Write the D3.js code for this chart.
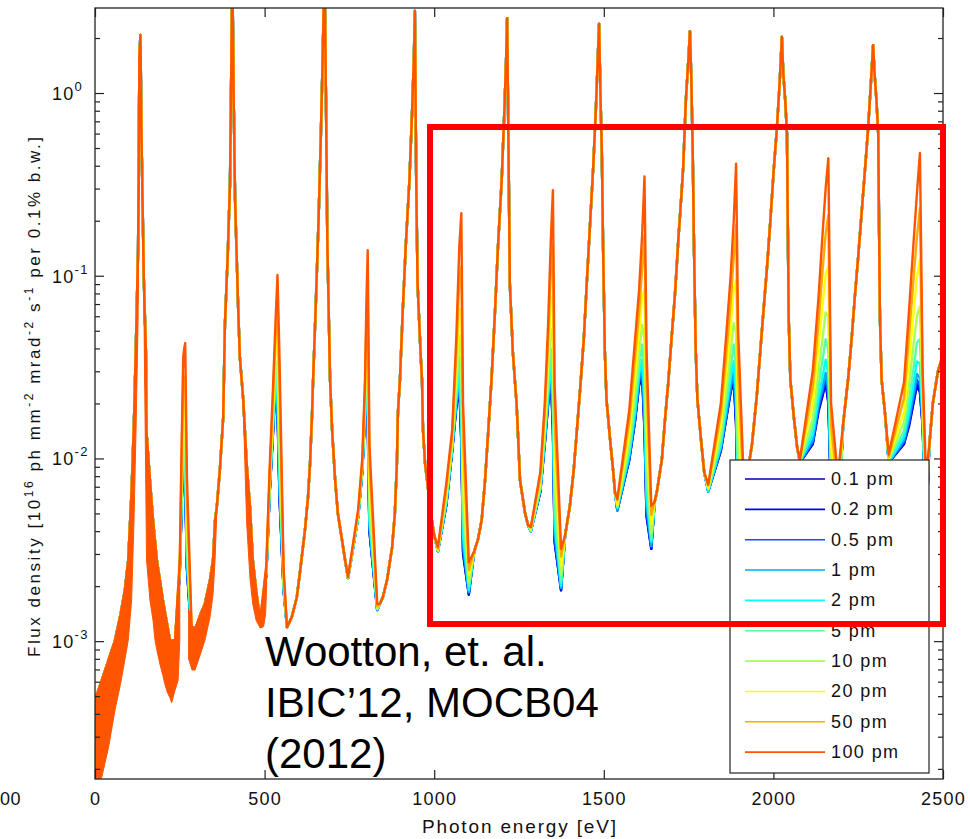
<!DOCTYPE html>
<html>
<head>
<meta charset="utf-8">
<script src="https://d3js.org/d3.v7.min.js"></script>
<style>
  html, body { margin: 0; padding: 0; background: #fff; }
  svg { display: block; font-family: "Liberation Sans", Arial, Helvetica, sans-serif; }
</style>
</head>
<body>
<svg id="chart" width="970" height="839"></svg>
<script>
// legend order = drawing order (100 pm ends up on top)
var seriesLabels = ["0.1 pm", "0.2 pm", "0.5 pm", "1 pm", "2 pm", "5 pm", "10 pm", "20 pm", "50 pm", "100 pm"];
var seriesColors = ["#0000aa", "#0000ff", "#0055ff", "#00aaff", "#00ffff", "#55ffaa", "#aaff55", "#ffff00", "#ffaa00", "#ff5500"];

var xTicks = [0, 500, 1000, 1500, 2000, 2500];
var yTicks = [1e-3, 1e-2, 1e-1, 1];
var yTickExponents = ["-3", "-2", "-1", "0"];

// samples where the ten traces sit on top of each other (odd harmonics, photon energy eV)
var sharedEnergy = [
  0, 20, 40, 59, 75, 88, 98, 108, 115, 121, 127, 131, 134, 137, 144, 150, 152, 162, 171, 182, 200, 221,
  295, 310, 324, 339, 348, 354, 359, 368, 378, 383, 391, 398, 401, 404, 406, 409, 413, 422, 427, 437, 447, 457, 465, 475,
  566, 580, 595, 604, 619, 628, 634, 640, 643, 651, 659, 666, 671, 675, 678, 681, 685, 693, 699, 708, 716, 728, 737,
  840, 849, 861, 876, 884, 890, 893, 899, 907, 916, 927, 935, 940, 943, 947, 951, 960, 964, 967, 973, 979, 990, 1000,
  1118, 1129, 1140, 1150, 1159, 1169, 1179, 1188, 1199, 1207, 1212, 1215, 1220, 1223, 1232, 1243, 1253, 1268, 1277,
  1386, 1400, 1411, 1421, 1431, 1441, 1451, 1460, 1469, 1477, 1482, 1486, 1490, 1494, 1498, 1503, 1508, 1518, 1528, 1533,
  1650, 1656, 1671, 1681, 1690, 1700, 1710, 1720, 1729, 1734, 1742, 1750, 1754, 1758, 1762, 1766, 1771, 1776, 1786, 1796,
  1920, 1937, 1951, 1961, 1971, 1981, 1991, 2001, 2010, 2018, 2025, 2029, 2035, 2040, 2045, 2050, 2060, 2070,
  2206, 2221, 2231, 2240, 2250, 2260, 2270, 2279, 2287, 2294, 2298, 2304, 2309, 2314, 2319, 2329,
  2460, 2470, 2485, 2500
];
var sharedFlux = [
  4.76e-4, 6.1e-4, 7.9e-4, 1.01e-3, 1.39e-3, 1.9e-3, 2.78e-3, 6.7e-3, 0.0162, 0.0446, 0.138, 1.61, 2.08, 0.59, 0.095, 0.039, 0.0138, 7.6e-3, 4.6e-3, 2.8e-3, 1.68e-3, 1.01e-3,
  1.15e-3, 1.39e-3, 1.6e-3, 2.16e-3, 2.78e-3, 4.6e-3, 5.4e-3, 8.6e-3, 0.0168, 0.054, 0.125, 0.32, 1.0, 3.4, 3.0, 0.9, 0.26, 0.067, 0.036, 0.021, 9.4e-3, 5.4e-3, 2.8e-3, 1.9e-3,
  1.19e-3, 1.35e-3, 1.74e-3, 2.36e-3, 4.05e-3, 6.15e-3, 9.4e-3, 0.0177, 0.0269, 0.07, 0.2, 0.6, 1.5, 3.4, 3.0, 0.9, 0.15, 0.027, 0.0143, 7.6e-3, 5.0e-3, 3.6e-3, 2.8e-3,
  1.6e-3, 1.75e-3, 2.16e-3, 3.27e-3, 5.0e-3, 9.4e-3, 0.0177, 0.0269, 0.0625, 0.144, 0.334, 0.81, 1.52, 2.81, 0.33, 0.09, 0.037, 0.027, 0.0143, 9.4e-3, 7.6e-3, 5.0e-3, 3.8e-3,
  3.1e-3, 3.6e-3, 4.6e-3, 7.6e-3, 0.0138, 0.027, 0.0625, 0.144, 0.334, 0.81, 1.52, 2.57, 0.334, 0.09, 0.0378, 0.0198, 7.6e-3, 5.0e-3, 4.3e-3,
  3.8e-3, 5.5e-3, 8.5e-3, 0.0145, 0.025, 0.045, 0.1, 0.2, 0.4, 0.85, 1.5, 2.39, 1.0, 0.5, 0.14, 0.039, 0.021, 0.013, 8.4e-3, 6.5e-3,
  5.8e-3, 6.5e-3, 9.8e-3, 0.0168, 0.026, 0.046, 0.08, 0.16, 0.28, 0.39, 0.92, 1.6, 2.18, 1.2, 0.5, 0.14, 0.039, 0.021, 0.013, 8.4e-3,
  7.5e-3, 0.012, 0.022, 0.038, 0.065, 0.11, 0.2, 0.38, 0.63, 1.1, 2.03, 1.3, 0.9, 0.6, 0.06, 0.027, 0.017, 0.0115,
  0.0157, 0.028, 0.046, 0.0765, 0.127, 0.22, 0.38, 0.63, 1.1, 1.83, 1.3, 0.9, 0.6, 0.06, 0.027, 0.0177,
  0.012, 0.02, 0.03, 0.037
];

// samples around each even harmonic, where the traces split apart (8 per harmonic)
var windowEnergy = [
  236, 250, 256, 260, 263, 266, 271, 286,
  487, 505, 515, 525, 532, 538, 544, 556,
  746, 776, 788, 796, 800, 804, 809, 832,
  1011, 1036, 1053, 1065, 1074, 1080, 1085, 1102,
  1285, 1313, 1326, 1336, 1344, 1350, 1355, 1374,
  1540, 1575, 1592, 1604, 1613, 1620, 1626, 1640,
  1808, 1845, 1862, 1874, 1883, 1890, 1896, 1914,
  2078, 2116, 2133, 2145, 2154, 2162, 2170, 2190,
  2340, 2385, 2400, 2413, 2423, 2432, 2440, 2450
];
var window01 = [
  1.0e-3, 2.4e-3, 6.0e-3, 8.5e-3, 9.0e-3, 7.0e-3, 2.5e-3, 9.5e-4,
  1.25e-3, 2.3e-3, 6.5e-3, 0.014, 0.025, 0.018, 6.0e-3, 1.9e-3,
  2.2e-3, 4.8e-3, 8.5e-3, 0.017, 0.024, 0.016, 4.0e-3, 1.48e-3,
  3.1e-3, 5.6e-3, 0.011, 0.019, 0.0246, 0.012, 3.0e-3, 1.8e-3,
  4.0e-3, 6.6e-3, 0.012, 0.02, 0.027, 0.014, 3.5e-3, 1.9e-3,
  5.2e-3, 9.8e-3, 0.016, 0.025, 0.028, 0.014, 4.8e-3, 3.2e-3,
  6.6e-3, 0.011, 0.017, 0.023, 0.027, 0.015, 4.5e-3, 3.5e-3,
  9.5e-3, 0.012, 0.018, 0.022, 0.026, 0.02, 6.0e-3, 4.0e-3,
  9.5e-3, 0.012, 0.015, 0.02, 0.025, 0.023, 0.015, 4.0e-3
];
var window02 = [
  1.0e-3, 2.4e-3, 6.0e-3, 8.7e-3, 9.1e-3, 7.2e-3, 2.5e-3, 9.5e-4,
  1.25e-3, 2.3e-3, 6.5e-3, 0.014, 0.025, 0.0186, 6.2e-3, 1.9e-3,
  2.2e-3, 4.8e-3, 8.5e-3, 0.017, 0.024, 0.0162, 4.0e-3, 1.48e-3,
  3.1e-3, 5.6e-3, 0.011, 0.019, 0.025, 0.0123, 3.1e-3, 1.8e-3,
  4.0e-3, 6.6e-3, 0.012, 0.02, 0.0275, 0.0145, 3.5e-3, 1.9e-3,
  5.2e-3, 9.8e-3, 0.016, 0.0257, 0.029, 0.0145, 4.9e-3, 3.2e-3,
  6.6e-3, 0.011, 0.017, 0.0234, 0.0275, 0.0155, 4.6e-3, 3.5e-3,
  9.5e-3, 0.012, 0.0186, 0.0224, 0.0263, 0.0204, 6.2e-3, 4.0e-3,
  9.5e-3, 0.012, 0.0155, 0.0204, 0.0257, 0.0234, 0.015, 4.0e-3
];
var window05 = [
  1.0e-3, 2.4e-3, 6.2e-3, 8.9e-3, 9.3e-3, 7.4e-3, 2.6e-3, 9.5e-4,
  1.25e-3, 2.3e-3, 6.5e-3, 0.0145, 0.0257, 0.019, 6.3e-3, 1.9e-3,
  2.2e-3, 4.8e-3, 8.5e-3, 0.0174, 0.0245, 0.017, 4.1e-3, 1.48e-3,
  3.1e-3, 5.6e-3, 0.011, 0.0195, 0.0257, 0.0132, 3.2e-3, 1.85e-3,
  4.0e-3, 6.6e-3, 0.0123, 0.0204, 0.028, 0.0155, 3.7e-3, 1.95e-3,
  5.2e-3, 0.01, 0.0162, 0.0263, 0.0295, 0.0155, 5.1e-3, 3.3e-3,
  6.6e-3, 0.0112, 0.0174, 0.024, 0.0288, 0.0166, 4.8e-3, 3.5e-3,
  9.5e-3, 0.0123, 0.019, 0.0234, 0.0275, 0.022, 6.3e-3, 4.1e-3,
  9.5e-3, 0.0123, 0.0158, 0.0214, 0.027, 0.025, 0.0155, 4.1e-3
];
var window1 = [
  1.0e-3, 2.4e-3, 6.3e-3, 9.3e-3, 9.8e-3, 7.9e-3, 2.7e-3, 9.6e-4,
  1.26e-3, 2.3e-3, 6.6e-3, 0.0148, 0.0263, 0.020, 6.8e-3, 1.95e-3,
  2.2e-3, 4.8e-3, 8.6e-3, 0.0174, 0.0257, 0.0182, 4.3e-3, 1.49e-3,
  3.1e-3, 5.7e-3, 0.0112, 0.020, 0.0275, 0.0145, 3.4e-3, 1.85e-3,
  4.0e-3, 6.8e-3, 0.0123, 0.0214, 0.030, 0.017, 3.9e-3, 1.95e-3,
  5.2e-3, 0.0102, 0.017, 0.027, 0.0316, 0.017, 5.5e-3, 3.3e-3,
  6.6e-3, 0.0115, 0.018, 0.025, 0.030, 0.0186, 5.1e-3, 3.6e-3,
  9.5e-3, 0.0126, 0.02, 0.0245, 0.0295, 0.024, 6.5e-3, 4.2e-3,
  9.5e-3, 0.0126, 0.0166, 0.0224, 0.029, 0.0275, 0.0158, 4.2e-3
];
var window2 = [
  1.0e-3, 2.5e-3, 6.6e-3, 0.010, 0.0107, 8.7e-3, 2.9e-3, 9.6e-4,
  1.26e-3, 2.35e-3, 6.8e-3, 0.0151, 0.0275, 0.0224, 7.4e-3, 1.95e-3,
  2.2e-3, 4.8e-3, 8.7e-3, 0.0178, 0.0275, 0.0204, 4.6e-3, 1.49e-3,
  3.1e-3, 5.8e-3, 0.0113, 0.021, 0.030, 0.017, 3.8e-3, 1.9e-3,
  4.0e-3, 6.8e-3, 0.0129, 0.0224, 0.033, 0.0204, 4.4e-3, 2.0e-3,
  5.4e-3, 0.0105, 0.0178, 0.029, 0.0347, 0.021, 6.2e-3, 3.5e-3,
  6.6e-3, 0.0117, 0.0195, 0.0275, 0.034, 0.0224, 6.0e-3, 3.7e-3,
  9.5e-3, 0.0135, 0.0214, 0.028, 0.0347, 0.029, 6.9e-3, 4.4e-3,
  9.5e-3, 0.0132, 0.018, 0.0257, 0.034, 0.033, 0.0166, 4.4e-3
];
var window5 = [
  1.0e-3, 2.5e-3, 7.2e-3, 0.0117, 0.0123, 0.0105, 3.2e-3, 9.6e-4,
  1.27e-3, 2.35e-3, 6.9e-3, 0.0158, 0.0295, 0.0263, 8.9e-3, 2.0e-3,
  2.2e-3, 4.9e-3, 8.9e-3, 0.0186, 0.030, 0.0257, 5.1e-3, 1.5e-3,
  3.1e-3, 6.0e-3, 0.0117, 0.023, 0.036, 0.023, 4.6e-3, 2.0e-3,
  4.0e-3, 6.9e-3, 0.0135, 0.025, 0.04, 0.0275, 5.4e-3, 2.1e-3,
  5.4e-3, 0.0112, 0.02, 0.0324, 0.042, 0.029, 7.6e-3, 3.6e-3,
  6.8e-3, 0.0126, 0.0214, 0.0316, 0.042, 0.031, 7.6e-3, 4.0e-3,
  9.5e-3, 0.0148, 0.025, 0.0347, 0.045, 0.039, 7.8e-3, 4.7e-3,
  9.8e-3, 0.0141, 0.021, 0.031, 0.043, 0.045, 0.0178, 4.7e-3
];
var window10 = [
  1.0e-3, 2.5e-3, 8.1e-3, 0.0141, 0.0151, 0.0135, 3.8e-3, 9.7e-4,
  1.27e-3, 2.4e-3, 7.2e-3, 0.0174, 0.033, 0.034, 0.0112, 2.1e-3,
  2.2e-3, 4.9e-3, 9.1e-3, 0.020, 0.0355, 0.0347, 5.9e-3, 1.5e-3,
  3.15e-3, 6.2e-3, 0.012, 0.0257, 0.047, 0.034, 6.0e-3, 2.1e-3,
  4.1e-3, 7.2e-3, 0.0145, 0.029, 0.051, 0.043, 7.1e-3, 2.3e-3,
  5.5e-3, 0.0123, 0.023, 0.039, 0.054, 0.045, 0.0102, 3.9e-3,
  6.8e-3, 0.0135, 0.025, 0.039, 0.055, 0.049, 0.0107, 4.4e-3,
  9.5e-3, 0.0166, 0.030, 0.0457, 0.063, 0.06, 9.3e-3, 5.1e-3,
  9.8e-3, 0.0158, 0.0257, 0.042, 0.06, 0.068, 0.0195, 5.1e-3
];
var window20 = [
  1.0e-3, 2.6e-3, 9.5e-3, 0.019, 0.0204, 0.0195, 4.8e-3, 9.8e-4,
  1.28e-3, 2.45e-3, 7.8e-3, 0.0195, 0.039, 0.047, 0.0162, 2.2e-3,
  2.24e-3, 5.0e-3, 9.3e-3, 0.022, 0.044, 0.054, 7.4e-3, 1.55e-3,
  3.16e-3, 6.6e-3, 0.0129, 0.031, 0.066, 0.062, 8.7e-3, 2.3e-3,
  4.1e-3, 7.6e-3, 0.0158, 0.0355, 0.072, 0.078, 0.0105, 2.6e-3,
  5.6e-3, 0.0138, 0.028, 0.049, 0.076, 0.085, 0.0158, 4.4e-3,
  6.9e-3, 0.0155, 0.031, 0.0525, 0.083, 0.095, 0.0174, 4.9e-3,
  9.8e-3, 0.02, 0.041, 0.069, 0.102, 0.112, 0.0117, 5.9e-3,
  0.01, 0.018, 0.034, 0.062, 0.098, 0.123, 0.0224, 5.9e-3
];
var window50 = [
  1.0e-3, 2.7e-3, 0.0115, 0.0257, 0.028, 0.028, 6.0e-3, 1.0e-3,
  1.29e-3, 2.5e-3, 8.3e-3, 0.022, 0.046, 0.068, 0.0234, 2.35e-3,
  2.24e-3, 5.1e-3, 9.5e-3, 0.024, 0.055, 0.083, 9.3e-3, 1.55e-3,
  3.2e-3, 6.9e-3, 0.0135, 0.036, 0.095, 0.112, 0.0129, 2.45e-3,
  4.2e-3, 7.9e-3, 0.0178, 0.044, 0.105, 0.148, 0.0158, 2.9e-3,
  5.9e-3, 0.0158, 0.0355, 0.063, 0.11, 0.166, 0.0245, 4.9e-3,
  7.1e-3, 0.0174, 0.039, 0.071, 0.126, 0.19, 0.029, 5.6e-3,
  9.8e-3, 0.0245, 0.055, 0.107, 0.17, 0.214, 0.0151, 6.8e-3,
  0.0102, 0.0214, 0.047, 0.095, 0.162, 0.234, 0.0257, 6.8e-3
];
var window100 = [
  1.01e-3, 2.8e-3, 0.0138, 0.0355, 0.040, 0.0428, 8.0e-3, 1.01e-3,
  1.3e-3, 2.6e-3, 9.0e-3, 0.025, 0.055, 0.101, 0.035, 2.5e-3,
  2.24e-3, 5.3e-3, 0.010, 0.027, 0.07, 0.138, 0.012, 1.6e-3,
  3.27e-3, 7.4e-3, 0.0143, 0.045, 0.144, 0.22, 0.02, 2.7e-3,
  4.2e-3, 8.5e-3, 0.02, 0.055, 0.16, 0.294, 0.025, 3.2e-3,
  6.0e-3, 0.0183, 0.0446, 0.0834, 0.167, 0.35, 0.04, 5.5e-3,
  7.2e-3, 0.02, 0.05, 0.1, 0.2, 0.41, 0.05, 6.5e-3,
  9.8e-3, 0.03, 0.076, 0.17, 0.3, 0.44, 0.02, 8e-3,
  0.0105, 0.026, 0.065, 0.15, 0.28, 0.47, 0.03, 8e-3
];

// fast oscillation at low energy shows up as a filled band (null splits the pieces)
var bandEnergy = [
  0, 20, 40, 59, 75, 88, 98, 108, 115, 121, 127, 131, 134, 137, 144, 148, 152, 162, 171, 177, 182, 192, 200, 206, 214, 221, 226, 236, 245, 250,
  null,
  276, 286, 295, 310, 324, 339, 348, 354, 359,
  null,
  437, 447, 457, 465, 475, 487, 497, 503, 506
];
var bandHigh = [
  4.76e-4, 6.1e-4, 7.9e-4, 1.01e-3, 1.39e-3, 1.9e-3, 2.78e-3, 6.7e-3, 0.0162, 0.0446, 0.138, 1.61, 2.08, 0.59, 0.095, 0.05, 0.0138, 7.6e-3, 4.6e-3, 3.5e-3, 2.8e-3, 2.1e-3, 1.68e-3, 1.45e-3, 1.2e-3, 1.01e-3, 1.0e-3, 1.01e-3, 1.68e-3, 2.8e-3,
  null,
  1.5e-3, 1.2e-3, 1.2e-3, 1.39e-3, 1.6e-3, 2.16e-3, 2.78e-3, 4.6e-3, 5.4e-3,
  null,
  0.021, 9.4e-3, 5.4e-3, 2.8e-3, 1.9e-3, 1.3e-3, 1.6e-3, 2.2e-3, 2.6e-3
];
var bandLow = [
  1.55e-4, 1.8e-4, 2.63e-4, 4.2e-4, 5.8e-4, 7.9e-4, 1.01e-3, 1.68e-3, 4.6e-3, 0.0143, 0.057, 0.49, 2.08, 0.5, 0.07, 0.0143, 2.78e-3, 1.68e-3, 1.3e-3, 1.01e-3, 9e-4, 7.4e-4, 6.5e-4, 5.8e-4, 5.2e-4, 4.9e-4, 4.6e-4, 5.4e-4, 6.1e-4, 1.0e-3,
  null,
  8e-4, 6.95e-4, 6.95e-4, 8.4e-4, 1.01e-3, 1.35e-3, 1.8e-3, 2.8e-3, 5.0e-3,
  null,
  0.019, 4.5e-3, 2.2e-3, 1.6e-3, 1.3e-3, 1.18e-3, 1.2e-3, 1.4e-3, 2.0e-3
];

var citationLines = ["Wootton, et. al.", "IBIC\u201912, MOCB04", "(2012)"];

// layout
var plot = {left: 95, right: 943, top: 8, bottom: 779};

var svg = d3.select("#chart");

var x = d3.scaleLinear().domain([0, 2500]).range([plot.left, plot.right]);
var y = d3.scaleLog().domain([1.76e-4, 2.92]).range([plot.bottom, plot.top]);

svg.append("rect").attr("width", 970).attr("height", 839).attr("fill", "#fff");

svg.append("defs").append("clipPath").attr("id", "plot-clip")
  .append("rect")
  .attr("x", plot.left).attr("y", plot.top)
  .attr("width", plot.right - plot.left).attr("height", plot.bottom - plot.top);

// build each trace: shared samples + its own even-harmonic samples
var windowFlux = [window01, window02, window05, window1, window2, window5, window10, window20, window50, window100];
var series = seriesLabels.map(function(label, k) {
  var points = sharedEnergy.map(function(e, i) { return [e, sharedFlux[i]]; })
    .concat(windowEnergy.map(function(e, i) { return [e, windowFlux[k][i]]; }));
  points.sort(function(a, b) { return a[0] - b[0]; });
  return {label: label, color: seriesColors[k], points: points};
});

var line = d3.line()
  .x(function(d) { return x(d[0]); })
  .y(function(d) { return y(d[1]); });

var bandRows = bandEnergy.map(function(e, i) { return {e: e, lo: bandLow[i], hi: bandHigh[i]}; });
var band = d3.area()
  .defined(function(d) { return d.e !== null; })
  .x(function(d) { return x(d.e); })
  .y0(function(d) { return y(d.lo); })
  .y1(function(d) { return y(d.hi); });

var traces = svg.append("g").attr("clip-path", "url(#plot-clip)");
series.forEach(function(s, k) {
  if (k === series.length - 1) {
    traces.append("path")
      .datum(bandRows)
      .attr("d", band)
      .attr("fill", s.color)
      .attr("stroke", s.color)
      .attr("stroke-width", 1);
  }
  traces.append("path")
    .datum(s.points)
    .attr("d", line)
    .attr("fill", "none")
    .attr("stroke", s.color)
    .attr("stroke-width", 2.4)
    .attr("stroke-linejoin", "round");
});

// axes: ticks point into the box, like matlab
var minorTicks = [];
[1e-4, 1e-3, 1e-2, 1e-1, 1].forEach(function(decade) {
  for (var m = 2; m <= 9; m++) {
    var v = decade * m;
    if (v > y.domain()[0] && v < y.domain()[1]) minorTicks.push(v);
  }
});

var axisColor = "#222";
var styleAxis = function(g) {
  g.select(".domain").remove();
  g.selectAll(".tick line").attr("stroke", axisColor).attr("stroke-width", 1.2);
};

svg.append("g").attr("transform", "translate(0," + plot.bottom + ")")
  .call(d3.axisBottom(x).tickValues(xTicks).tickSize(-9).tickPadding(13).tickFormat(d3.format("d")))
  .call(styleAxis)
  .call(function(g) {
    g.selectAll("text")
      .attr("fill", "#111")
      .attr("font-size", 18)
      .attr("letter-spacing", 1.2)
      .attr("font-family", "Liberation Sans, Arial, sans-serif");
  });

svg.append("g").attr("transform", "translate(0," + plot.top + ")")
  .call(d3.axisTop(x).tickValues(xTicks).tickSize(-9).tickFormat(""))
  .call(styleAxis);

svg.append("g").attr("transform", "translate(" + plot.left + ",0)")
  .call(d3.axisLeft(y).tickValues(yTicks).tickSize(-9).tickFormat(""))
  .call(styleAxis);
svg.append("g").attr("transform", "translate(" + plot.left + ",0)")
  .call(d3.axisLeft(y).tickValues(minorTicks).tickSize(-5).tickFormat(""))
  .call(styleAxis);
svg.append("g").attr("transform", "translate(" + plot.right + ",0)")
  .call(d3.axisRight(y).tickValues(yTicks).tickSize(-9).tickFormat(""))
  .call(styleAxis);
svg.append("g").attr("transform", "translate(" + plot.right + ",0)")
  .call(d3.axisRight(y).tickValues(minorTicks).tickSize(-5).tickFormat(""))
  .call(styleAxis);

// y tick labels as 10 with a raised exponent
yTicks.forEach(function(v, i) {
  var label = svg.append("text")
    .attr("x", 52)
    .attr("y", y(v) + 7)
    .attr("fill", "#111")
    .attr("font-size", 18)
    .attr("letter-spacing", 1.2);
  label.append("tspan").text("10");
  label.append("tspan")
    .attr("dy", -9)
    .attr("font-size", 13)
    .attr("letter-spacing", 1.5)
    .text(yTickExponents[i]);
});

// the tail of a label that the picture's left edge cuts
svg.append("text")
  .attr("x", 0).attr("y", 805)
  .attr("fill", "#111")
  .attr("font-size", 18)
  .attr("letter-spacing", 0.5)
  .text("00");

// frame
svg.append("rect")
  .attr("x", plot.left).attr("y", plot.top)
  .attr("width", plot.right - plot.left).attr("height", plot.bottom - plot.top)
  .attr("fill", "none")
  .attr("stroke", axisColor)
  .attr("stroke-width", 1.3);

// axis titles
svg.append("text")
  .attr("x", 519).attr("y", 833)
  .attr("text-anchor", "middle")
  .attr("fill", "#111")
  .attr("font-size", 19)
  .attr("textLength", 194)
  .attr("lengthAdjust", "spacing")
  .text("Photon energy [eV]");

var yTitle = svg.append("text")
  .attr("transform", "translate(40,397) rotate(-90)")
  .attr("text-anchor", "middle")
  .attr("fill", "#111")
  .attr("font-size", 17)
  .attr("textLength", 520)
  .attr("lengthAdjust", "spacing");
var yTitleParts = [
  ["Flux density [10", false], ["16", true], [" ph mm", false], ["-2", true],
  [" mrad", false], ["-2", true], [" s", false], ["-1", true], [" per 0.1% b.w.]", false]
];
var raised = false;
yTitleParts.forEach(function(part) {
  var t = yTitle.append("tspan").text(part[0]);
  if (part[1] && !raised) { t.attr("dy", -7).attr("font-size", 12); raised = true; }
  else if (part[1]) { t.attr("font-size", 12); }
  else if (raised) { t.attr("dy", 7); raised = false; }
});

// legend
var legend = svg.append("g");
legend.append("rect")
  .attr("x", 730).attr("y", 460)
  .attr("width", 199).attr("height", 313)
  .attr("fill", "#fff")
  .attr("stroke", axisColor)
  .attr("stroke-width", 1.2);
series.forEach(function(s, i) {
  var rowY = 479 + i * 30.35;
  legend.append("line")
    .attr("x1", 745).attr("x2", 825)
    .attr("y1", rowY).attr("y2", rowY)
    .attr("stroke", s.color)
    .attr("stroke-width", 1.6);
  legend.append("text")
    .attr("x", 831).attr("y", rowY + 6)
    .attr("fill", "#111")
    .attr("font-size", 18)
    .attr("letter-spacing", 1.4)
    .text(s.label);
});

// citation
citationLines.forEach(function(t, i) {
  svg.append("text")
    .attr("x", 265).attr("y", 666 + i * 51)
    .attr("fill", "#000")
    .attr("font-size", 42)
    .text(t);
});

// highlight box
svg.append("rect")
  .attr("x", 430).attr("y", 127)
  .attr("width", 513).attr("height", 497)
  .attr("fill", "none")
  .attr("stroke", "#ff0000")
  .attr("stroke-width", 6);
</script>
</body>
</html>
